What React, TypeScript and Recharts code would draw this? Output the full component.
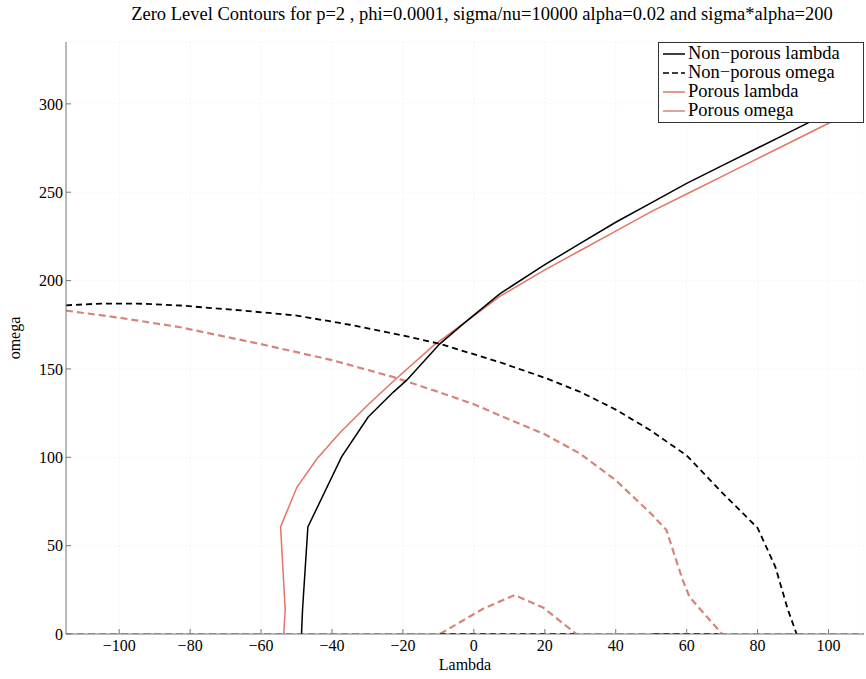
import React from 'react';
import { LineChart, Line, XAxis, YAxis, CartesianGrid, Legend } from 'recharts';

const FONT = '"Liberation Serif", "Times New Roman", serif';

const lambdaTicks = [-100, -80, -60, -40, -20, 0, 20, 40, 60, 80, 100];
const omegaTicks = [0, 50, 100, 150, 200, 250, 300];

const titleText = 'Zero Level Contours for p=2 , phi=0.0001, sigma/nu=10000 alpha=0.02 and sigma*alpha=200';
const xLabel = 'Lambda';
const yLabel = 'omega';

// Non-porous lambda (black solid)
const npLambdaL = [-48.6, -48.3, -46.8, -37.3, -29.8, -22.7, -19, -9.6, -3, 7.3, 20, 30, 40, 50, 60, 70, 80, 90, 100, 110];
const npLambdaW = [0, 14, 60.6, 100.2, 122.8, 136.9, 143.5, 164.2, 175.5, 192.5, 209, 221, 233, 244, 255, 265, 275, 285, 295, 304];

// Non-porous omega (black dashed)
const npOmegaL = [-115, -105, -95, -82.8, -65, -49.9, -35, -19.9, -9.6, 7.3, 20, 30, 40, 50, 60, 70, 80, 85, 88.5, 91];
const npOmegaW = [186, 187, 187, 185.9, 183, 180.2, 175, 168.9, 164.2, 153.8, 145, 137, 127, 115, 101, 80, 60, 38, 14, 0];
const npOmegaZero1L = [-9.6, 28.2];
const npOmegaZero2L = [50.7, 68.8];

// Porous lambda (red solid)
const pLambdaL = [-53.6, -53.2, -54.5, -49.9, -44.3, -37.7, -30.2, -22.7, -11.5, 0, 7.3, 20, 30, 40, 50, 60, 70, 80, 90, 100, 110];
const pLambdaW = [0, 14, 60.6, 83, 99, 114, 129, 143, 163, 180, 191, 206, 217, 228, 239, 249, 259, 269, 279, 289, 298];

// Porous omega (red dashed)
const pOmegaL = [-115, -100, -82.8, -60, -40, -22.7, -10, 0, 7.3, 20, 30, 40, 50, 54.3, 57, 58.9, 60.8, 63.7, 70, 110];
const pOmegaW = [183, 179, 173.6, 164, 155, 145.4, 137, 130, 123.7, 113, 102, 87, 68, 58.8, 42, 30.5, 21, 14.3, 0, 0];
const pOmegaBumpL = [-115, -9.6, 2.6, 11.5, 19.5, 28.9, 70];
const pOmegaBumpW = [0, 0, 14.3, 22, 15, 0, 0];

type Pt = { x: number; y: number | null };
const toPts = (L: number[], W: number[]): Pt[] => L.map((x, i) => ({ x, y: W[i] }));
const joinSegs = (...segs: Pt[][]): Pt[] => {
  const out: Pt[] = [];
  segs.forEach((s, i) => {
    if (i > 0) out.push({ x: s[0].x, y: null });
    out.push(...s);
  });
  return out;
};
const zeros = (L: number[]) => L.map(() => 0);

const series = [
  { name: 'Porous omega', color: '#d5857b', width: 2.2, dash: '7 4', legendDash: undefined as string | undefined,
    data: joinSegs(toPts(pOmegaL, pOmegaW), toPts(pOmegaBumpL, pOmegaBumpW)) },
  { name: 'Porous lambda', color: '#e27565', width: 1.5, dash: undefined as string | undefined, legendDash: undefined as string | undefined,
    data: toPts(pLambdaL, pLambdaW) },
  { name: 'Non\u2212porous lambda', color: '#000000', width: 1.5, dash: undefined as string | undefined, legendDash: undefined as string | undefined,
    data: toPts(npLambdaL, npLambdaW) },
  { name: 'Non\u2212porous omega', color: '#000000', width: 1.8, dash: '6 4', legendDash: '6 3',
    data: joinSegs(toPts(npOmegaL, npOmegaW), toPts(npOmegaZero1L, zeros(npOmegaZero1L)), toPts(npOmegaZero2L, zeros(npOmegaZero2L))) },
];
const legendOrder = ['Non\u2212porous lambda', 'Non\u2212porous omega', 'Porous lambda', 'Porous omega'];

const fmt = (v: number) => (v < 0 ? '\u2212' + Math.abs(v) : String(v));

const LegendBox = () => (
  <div style={{ background: '#fff', border: '1px solid #333', padding: '1px 3px 2px 3px', fontFamily: FONT, fontSize: 18.5, lineHeight: '19px', color: '#000', width: 206, boxSizing: 'border-box' }}>
    {legendOrder.map((n) => {
      const s = series.find((q) => q.name === n)!;
      return (
        <div key={n} style={{ display: 'flex', alignItems: 'center', whiteSpace: 'nowrap', height: 19 }}>
          <svg width={24} height={10} style={{ marginRight: 2, flex: 'none' }}>
            <line x1={1} y1={5} x2={23} y2={5} stroke={s.color} strokeWidth={1.5} strokeDasharray={s.legendDash} />
          </svg>
          <span>{n}</span>
        </div>
      );
    })}
  </div>
);

const emptyTick = () => <g />;

export default function App() {
  return (
    <div style={{ position: 'absolute', left: 0, top: 0, width: 866, height: 679, background: '#fff', fontFamily: FONT }}>
      <LineChart width={866} height={679} margin={{ top: 42, right: 2, bottom: 0, left: 0 }}>
        <CartesianGrid stroke="#ececec" strokeDasharray="1 3" />
        <XAxis type="number" dataKey="x" domain={[-115, 110]} allowDataOverflow ticks={lambdaTicks}
          height={45} tickFormatter={fmt} tickSize={-5} tickMargin={11} stroke="#777"
          tick={{ fill: '#000', fontSize: 16, fontFamily: FONT }} />
        <XAxis xAxisId="top" orientation="top" type="number" dataKey="x" domain={[-115, 110]} allowDataOverflow
          ticks={lambdaTicks} height={0} tickSize={-5} stroke="#777" tick={emptyTick} />
        <YAxis type="number" domain={[0, 335]} allowDataOverflow ticks={omegaTicks} width={66}
          tickSize={-5} tickMargin={8} stroke="#777" tick={{ fill: '#000', fontSize: 16, fontFamily: FONT }} />
        <YAxis yAxisId="right" orientation="right" type="number" domain={[0, 335]} allowDataOverflow
          ticks={omegaTicks} width={0} tickSize={-5} stroke="#777" tick={emptyTick} />
        {series.map((s) => (
          <Line key={s.name} name={s.name} data={s.data} dataKey="y" type="linear" dot={false}
            stroke={s.color} strokeWidth={s.width} strokeDasharray={s.dash} connectNulls={false}
            isAnimationActive={false} />
        ))}
        <Legend layout="horizontal" verticalAlign="middle" align="center" content={() => <LegendBox />}
          wrapperStyle={{ top: 42, left: 658, width: 206 }} />
      </LineChart>
      <svg width={866} height={679} style={{ position: 'absolute', left: 0, top: 0, pointerEvents: 'none' }}>
        <text x={482} y={20} textAnchor="middle" fontSize={18.5} fontFamily={FONT} fill="#000">{titleText}</text>
        <text x={465} y={670} textAnchor="middle" fontSize={16} fontFamily={FONT} fill="#000">{xLabel}</text>
        <text x={20} y={338} textAnchor="middle" fontSize={16} fontFamily={FONT} fill="#000" transform="rotate(-90 20 338)">{yLabel}</text>
      </svg>
    </div>
  );
}
